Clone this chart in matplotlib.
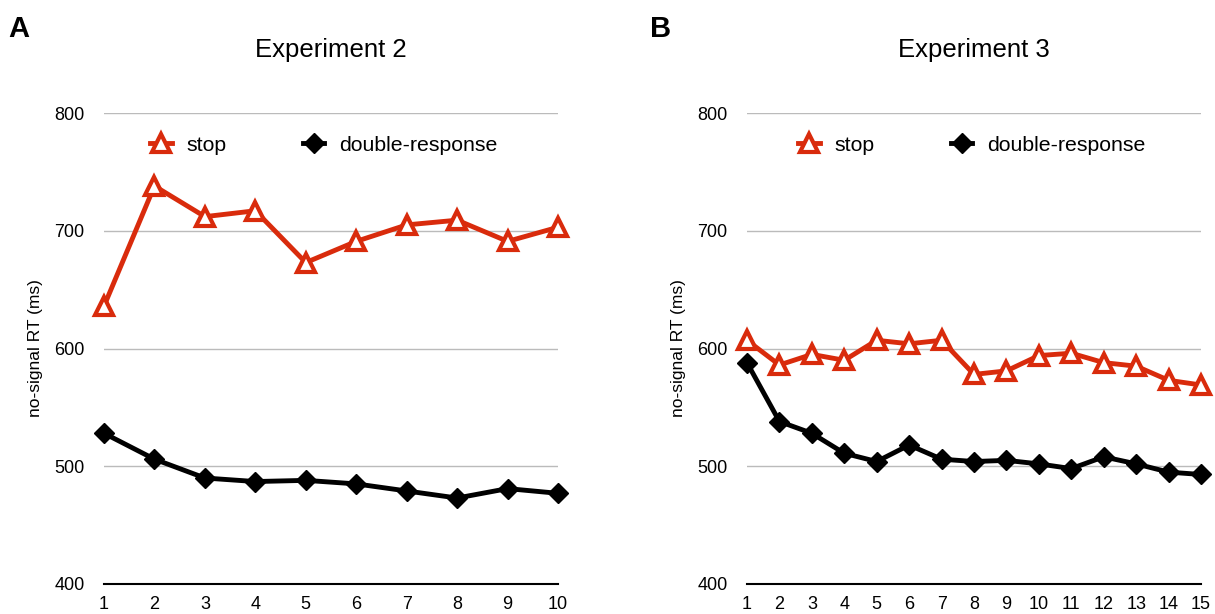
import matplotlib
matplotlib.use('Agg')
import matplotlib.pyplot as plt

plt.rcParams['font.family'] = ['Liberation Sans', 'DejaVu Sans']

# Experiment 2 (panel A)
bloques_a = [1, 2, 3, 4, 5, 6, 7, 8, 9, 10]
stop_a = [636, 738, 712, 717, 673, 691, 705, 709, 691, 703]
doble_a = [528, 506, 490, 487, 488, 485, 479, 473, 481, 477]

# Experiment 3 (panel B)
bloques_b = [1, 2, 3, 4, 5, 6, 7, 8, 9, 10, 11, 12, 13, 14, 15]
stop_b = [607, 586, 595, 590, 607, 604, 607, 578, 581, 594, 596, 588, 585, 573, 569]
doble_b = [588, 538, 528, 511, 504, 518, 506, 504, 505, 502, 498, 508, 502, 495, 493]

rojo = '#d92b0c'

fig = plt.figure(figsize=(12.15, 6.14), dpi=100)
ax1 = fig.add_axes([0.0856, 0.0489, 0.3737, 0.767])
ax2 = fig.add_axes([0.6148, 0.0489, 0.3737, 0.767])

def panel(ax, x, stop, doble, titulo, xley):
    ax.plot(x, stop, color=rojo, lw=3.5, marker='^', ms=13, mfc='white',
            mec=rojo, mew=3, label='stop', clip_on=False, zorder=3)
    ax.plot(x, doble, color='black', lw=3.5, marker='D', ms=10.5, mfc='black',
            mec='black', label='double-response', clip_on=False, zorder=3)
    ax.set_xlim(x[0], x[-1])
    ax.set_ylim(400, 800)
    ax.set_xticks(x)
    ax.set_yticks([400, 500, 600, 700, 800])
    ax.yaxis.grid(True, color='#bbbbbb', lw=1)
    ax.set_axisbelow(True)
    for s in ['top', 'right', 'left']:
        ax.spines[s].set_visible(False)
    ax.spines['bottom'].set_linewidth(1.5)
    ax.tick_params(length=0, labelsize=13)
    ax.tick_params(axis='x', pad=9)
    ax.tick_params(axis='y', pad=14)
    ax.set_ylabel('no-signal RT (ms)', fontsize=12.5, labelpad=8)
    ax.set_title(titulo, fontsize=18.5, pad=40)
    ax.legend(loc='center left', bbox_to_anchor=(xley, 0.932), ncol=2, frameon=False,
              fontsize=15.3, handlelength=1.0, columnspacing=3.6, handletextpad=0.7,
              borderpad=0, borderaxespad=0, numpoints=1)

panel(ax1, bloques_a, stop_a, doble_a, 'Experiment 2', 0.102)
panel(ax2, bloques_b, stop_b, doble_b, 'Experiment 3', 0.113)

fig.text(0.007, 0.952, 'A', fontsize=21, fontweight='bold', va='center')
fig.text(0.535, 0.952, 'B', fontsize=21, fontweight='bold', va='center')

plt.savefig('out.png', dpi=100)
